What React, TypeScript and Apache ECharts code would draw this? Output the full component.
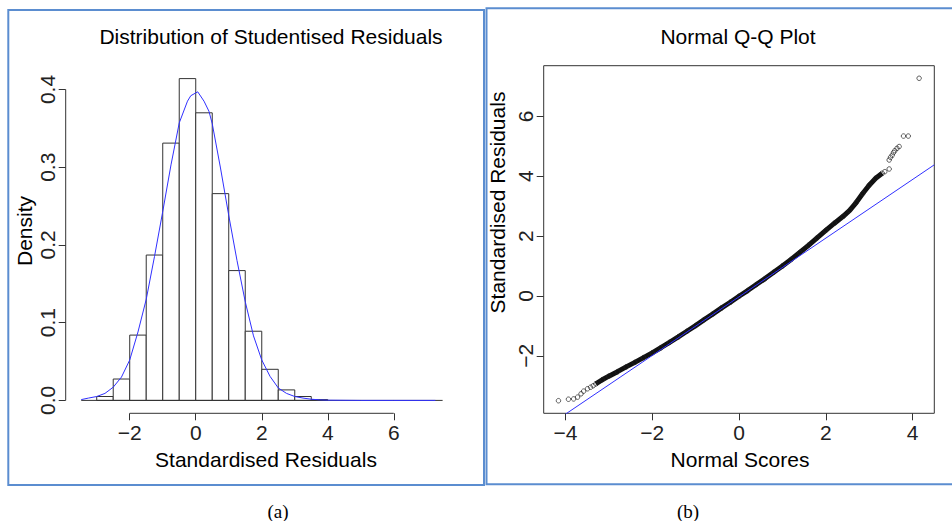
import React, { useEffect, useRef } from "react";
import * as echarts from "echarts";

// ---------- Histogram (panel a) ----------
const binStarts = [-3.0, -2.5, -2.0, -1.5, -1.0, -0.5, 0.0, 0.5, 1.0, 1.5, 2.0, 2.5, 3.0, 3.5];
const binWidth = 0.5;
const binDensity = [0.005, 0.0275, 0.084, 0.187, 0.331, 0.414, 0.37, 0.266, 0.167, 0.089, 0.04, 0.0135, 0.005, 0.001];

const densX = [-3.47, -3.25, -3.0, -2.75, -2.5, -2.25, -2.0, -1.75, -1.5, -1.25, -1.0, -0.75, -0.5, -0.25, -0.15, 0.06, 0.25, 0.4, 0.5, 0.75, 1.0, 1.25, 1.5, 1.75, 2.0, 2.25, 2.5, 2.75, 3.0, 3.25, 3.5, 3.75, 4.0, 5.0, 6.0, 7.26];
const densY = [0.001, 0.003, 0.005, 0.009, 0.017, 0.03, 0.052, 0.088, 0.13, 0.185, 0.243, 0.303, 0.357, 0.385, 0.392, 0.397, 0.385, 0.372, 0.356, 0.299, 0.238, 0.18, 0.127, 0.083, 0.052, 0.031, 0.016, 0.009, 0.005, 0.003, 0.0015, 0.0007, 0.0003, 0, 0, 0];

const histBaseline = [-3.47, 7.48];
const histXTicks = [-2, 0, 2, 4, 6];
const histYTicks = [0, 0.1, 0.2, 0.3, 0.4];
const histXRange = [-3.94, 7.94];
const histYRange = [-0.0166, 0.4306];

// ---------- Normal Q-Q plot (panel b) ----------
const qqBandX = [-3.3, -3.15, -3.0, -2.8, -2.6, -2.4, -2.2, -2.0, -1.8, -1.6, -1.4, -1.2, -1.0, -0.8, -0.6, -0.4, -0.2, 0, 0.2, 0.4, 0.6, 0.8, 1.0, 1.2, 1.4, 1.6, 1.8, 2.0, 2.2, 2.4, 2.55, 2.7, 2.85, 3.0, 3.15, 3.3];
const qqBandY = [-2.94, -2.8, -2.68, -2.53, -2.37, -2.22, -2.06, -1.9, -1.73, -1.55, -1.37, -1.18, -0.99, -0.79, -0.6, -0.4, -0.21, -0.01, 0.18, 0.38, 0.58, 0.79, 1.0, 1.22, 1.45, 1.69, 1.94, 2.19, 2.43, 2.66, 2.86, 3.12, 3.42, 3.7, 3.93, 4.1];
const qqTailLowX = [-4.16, -3.93, -3.81, -3.72, -3.64, -3.58, -3.49, -3.42, -3.36];
const qqTailLowY = [-3.5, -3.45, -3.44, -3.38, -3.27, -3.18, -3.1, -3.05, -3.0];
const qqTailHighX = [3.36, 3.46, 3.46, 3.49, 3.53, 3.56, 3.59, 3.64, 3.69, 3.79, 3.9, 4.15];
const qqTailHighY = [4.15, 4.24, 4.54, 4.63, 4.7, 4.79, 4.85, 4.93, 4.99, 5.34, 5.34, 7.27];
const qqLineX = [-4.5, 4.5];
const qqLineY = [-4.44, 4.38];
const qqXTicks = [-4, -2, 0, 2, 4];
const qqYTicks = [-2, 0, 2, 4, 6];
const qqXRange = [-4.5, 4.5];
const qqYRange = [-3.92, 7.69];

const SANS = "'Liberation Sans', Arial, Helvetica, sans-serif";
const SERIF = "'Liberation Serif', 'Times New Roman', serif";
const INK = "#222";
const AXIS = "#333";
const BLUE = "#3030ff";
const FRAME = "#5b8dd0";

const fmt = (v: number, d = 0) => (v < 0 ? "\u2212" + Math.abs(v).toFixed(d) : v.toFixed(d));

function zip(a: number[], b: number[]) {
  return a.map((x, i) => [x, b[i]]);
}

export default function App() {
  const ref = useRef<HTMLDivElement>(null);
  useEffect(() => {
    if (!ref.current) return;
    const chart = echarts.init(ref.current, undefined, { renderer: "svg" });
    const fs = 21;
    const tickLabel = { color: INK, fontSize: fs, fontFamily: SANS };
    const option: any = {
      animation: false,
      backgroundColor: "#fff",
      grid: [
        { left: 65.7, top: 65.7, width: 392.1, height: 347.6, show: false },
        { left: 543.7, top: 65.7, width: 390.6, height: 347.6, show: true, borderColor: AXIS, borderWidth: 1, backgroundColor: "transparent" },
      ],
      xAxis: [
        {
          type: "value", gridIndex: 0, min: histXRange[0], max: histXRange[1],
          axisLine: { show: false, onZero: false }, splitLine: { show: false },
          axisTick: { show: true, customValues: histXTicks, length: 7, lineStyle: { color: AXIS } },
          axisLabel: { ...tickLabel, customValues: histXTicks, margin: 9, formatter: (v: number) => fmt(v) },
        },
        {
          type: "value", gridIndex: 1, min: qqXRange[0], max: qqXRange[1],
          axisLine: { show: false, onZero: false }, splitLine: { show: false },
          axisTick: { show: true, customValues: qqXTicks, length: 7, lineStyle: { color: AXIS } },
          axisLabel: { ...tickLabel, customValues: qqXTicks, margin: 9, formatter: (v: number) => fmt(v) },
        },
      ],
      yAxis: [
        {
          type: "value", gridIndex: 0, min: histYRange[0], max: histYRange[1],
          axisLine: { show: false, onZero: false }, splitLine: { show: false },
          axisTick: { show: true, customValues: histYTicks, length: 7, lineStyle: { color: AXIS } },
          axisLabel: { ...tickLabel, customValues: histYTicks, margin: 8, rotate: 90, formatter: (v: number) => fmt(v, 1) },
        },
        {
          type: "value", gridIndex: 1, min: qqYRange[0], max: qqYRange[1],
          axisLine: { show: false, onZero: false }, splitLine: { show: false },
          axisTick: { show: true, customValues: qqYTicks, length: 7, lineStyle: { color: AXIS } },
          axisLabel: { ...tickLabel, customValues: qqYTicks, margin: 8, rotate: 90, formatter: (v: number) => fmt(v) },
        },
      ],
      series: [
        {
          type: "custom", xAxisIndex: 0, yAxisIndex: 0, z: 2,
          data: binStarts.map((s, i) => [s, s + binWidth, binDensity[i]]),
          encode: { x: [0, 1], y: 2 },
          renderItem: (params: any, api: any) => {
            const p0 = api.coord([api.value(0), api.value(2)]);
            const p1 = api.coord([api.value(1), 0]);
            return {
              type: "rect",
              shape: { x: p0[0], y: p0[1], width: p1[0] - p0[0], height: p1[1] - p0[1] },
              style: { fill: "#fff", stroke: AXIS, lineWidth: 1 },
            };
          },
        },
        {
          type: "line", xAxisIndex: 0, yAxisIndex: 0, z: 3, symbol: "none", clip: false,
          data: histBaseline.map((x) => [x, 0]),
          lineStyle: { color: AXIS, width: 1 },
        },
        {
          type: "line", xAxisIndex: 0, yAxisIndex: 0, z: 4, symbol: "none", clip: false,
          data: zip(densX, densY),
          lineStyle: { color: BLUE, width: 1 },
        },
        // R-style partial axis lines
        {
          type: "line", xAxisIndex: 0, yAxisIndex: 0, z: 4, symbol: "none", clip: false,
          data: [[histXTicks[0], histYRange[0]], [histXTicks[histXTicks.length - 1], histYRange[0]]],
          lineStyle: { color: AXIS, width: 1 },
        },
        {
          type: "line", xAxisIndex: 0, yAxisIndex: 0, z: 4, symbol: "none", clip: false,
          data: [[histXRange[0], histYTicks[0]], [histXRange[0], histYTicks[histYTicks.length - 1]]],
          lineStyle: { color: AXIS, width: 1 },
        },
        // Q-Q
        {
          type: "line", xAxisIndex: 1, yAxisIndex: 1, z: 3, symbol: "none",
          data: zip(qqBandX, qqBandY),
          lineStyle: { color: "#111", width: 5 },
        },
        {
          type: "scatter", xAxisIndex: 1, yAxisIndex: 1, z: 4, symbol: "circle", symbolSize: 4.5,
          data: [...zip(qqTailLowX, qqTailLowY), ...zip(qqBandX, qqBandY), ...zip(qqTailHighX, qqTailHighY)],
          itemStyle: { color: "rgba(0,0,0,0)", borderColor: "#222", borderWidth: 0.9 },
        },
        {
          type: "line", xAxisIndex: 1, yAxisIndex: 1, z: 5, symbol: "none",
          data: zip(qqLineX, qqLineY),
          lineStyle: { color: BLUE, width: 1 },
        },
      ],
      graphic: [
        { type: "rect", shape: { x: 8.3, y: 10, width: 475.7, height: 475 }, style: { fill: "none", stroke: FRAME, lineWidth: 2 }, z: 10 },
        { type: "rect", shape: { x: 486.5, y: 8.3, width: 480, height: 476 }, style: { fill: "none", stroke: FRAME, lineWidth: 2 }, z: 10 },
        { type: "text", x: 271, y: 36, style: { text: "Distribution of Studentised Residuals", fill: "#000", fontSize: fs, fontFamily: SANS, textAlign: "center", textVerticalAlign: "middle", align: "center", verticalAlign: "middle" } },
        { type: "text", x: 738, y: 36, style: { text: "Normal Q-Q Plot", fill: "#000", fontSize: fs, fontFamily: SANS, textAlign: "center", textVerticalAlign: "middle", align: "center", verticalAlign: "middle" } },
        { type: "text", x: 266, y: 459, style: { text: "Standardised Residuals", fill: "#000", fontSize: fs, fontFamily: SANS, textAlign: "center", textVerticalAlign: "middle", align: "center", verticalAlign: "middle" } },
        { type: "text", x: 740, y: 459, style: { text: "Normal Scores", fill: "#000", fontSize: fs, fontFamily: SANS, textAlign: "center", textVerticalAlign: "middle", align: "center", verticalAlign: "middle" } },
        { type: "text", x: 24, y: 231, rotation: Math.PI / 2, style: { text: "Density", fill: "#000", fontSize: fs, fontFamily: SANS, textAlign: "center", textVerticalAlign: "middle", align: "center", verticalAlign: "middle" } },
        { type: "text", x: 497.5, y: 202.5, rotation: Math.PI / 2, style: { text: "Standardised Residuals", fill: "#000", fontSize: fs, fontFamily: SANS, textAlign: "center", textVerticalAlign: "middle", align: "center", verticalAlign: "middle" } },
        { type: "text", x: 278, y: 511, style: { text: "(a)", fill: "#000", fontSize: 19, fontFamily: SERIF, textAlign: "center", textVerticalAlign: "middle", align: "center", verticalAlign: "middle" } },
        { type: "text", x: 688, y: 511, style: { text: "(b)", fill: "#000", fontSize: 19, fontFamily: SERIF, textAlign: "center", textVerticalAlign: "middle", align: "center", verticalAlign: "middle" } },
      ],
    };
    chart.setOption(option);
    return () => chart.dispose();
  }, []);
  return <div ref={ref} style={{ position: "fixed", left: 0, top: 0, width: 952, height: 521, background: "#fff" }} />;
}
